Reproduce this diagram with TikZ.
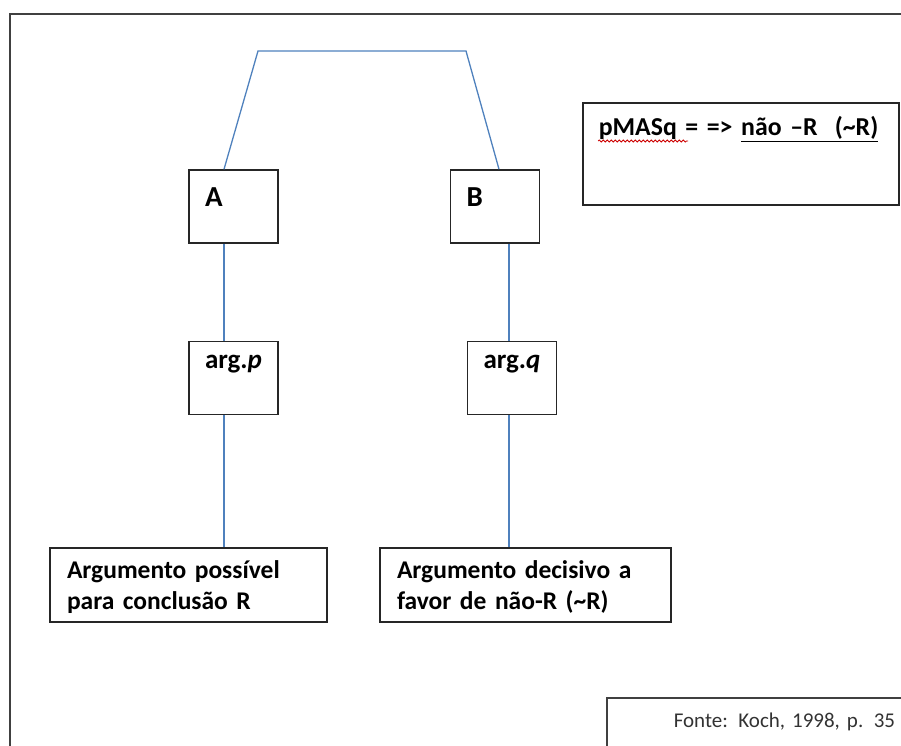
\documentclass[tikz,border=0pt]{standalone}
\usepackage{fontspec}
\setmainfont{Carlito}[WordSpace=0.55]
\usetikzlibrary{positioning, decorations.pathmorphing}
\definecolor{linkblue}{RGB}{79,129,189}
\definecolor{boxgray}{RGB}{38,38,38}

\begin{document}
\begin{tikzpicture}[x=1pt, y=-1pt,
  box/.style={draw=boxgray, line width=1.5pt, inner ysep=0pt, font=\bfseries},
  letter/.style={box, text width=57pt, inner xsep=16pt, align=left, text height=36pt, text depth=37pt, font=\fontsize{29}{32}\selectfont\bfseries},
  argbox/.style={box, text width=85pt, inner xsep=2pt, align=center, text height=27pt, text depth=46pt, font=\fontsize{27}{30}\selectfont\bfseries},
  conclusion/.style={box, inner xsep=17pt, align=left, text height=30pt, text depth=44pt, font=\fontsize{25.5}{31}\selectfont\bfseries},
  link/.style={draw=linkblue, line width=1.3pt},
  frame/.style={draw=black!75, line width=1.5pt}
]
\useasboundingbox (0,0) rectangle (901,745);
\clip (0,0) rectangle (901,745);

% Outer frame
\draw[frame] (10,14) rectangle (940,780);

% Parties
\node[letter] (A) at (233.5,206.5) {A};
\node[letter, right=171pt of A] (B) {B};

% Arguments
\node[argbox, below=97pt of A] (argp) {arg.\textit{p}};
\node[argbox, below=97pt of B, xshift=17pt] (argq) {arg.\textit{q}};

% Conclusions
\node[conclusion, text width=243pt, below=132pt of argp, xshift=-45pt] (conclR) {Argumento possível\\para conclusão R};
\node[conclusion, text width=257pt, below=132pt of argq, xshift=13.5pt] (conclnotR) {Argumento decisivo a\\favor de não-R (\textasciitilde R)};

% Summary
\node[box, anchor=north west, text width=284pt, inner xsep=16pt, align=left, text height=33pt, text depth=69pt, font=\fontsize{25.8}{28}\selectfont\bfseries] (summary) at (582,102) {pMASq = => \underline{não –R\ \ (\textasciitilde R)}};
\draw[red!80!black, line width=0.8pt, decorate, decoration={snake, amplitude=1pt, segment length=4pt}] ([xshift=16pt, yshift=-39pt]summary.north west) -- ++(90,0);

% Source
\node[box, draw=black!75, anchor=north west, text width=240pt, inner xsep=67pt, align=left, text height=30pt, text depth=40pt, text=black!80, font=\fontsize{21}{24}\selectfont] (source) at (606,697) {Fonte: Koch, 1998, p. 35};

% Links
\coordinate (topl) at (258,51);
\coordinate (topr) at (466,51);
\draw[link] ([xshift=-9.5pt]A.north) -- (topl) -- (topr) -- ([xshift=4pt]B.north);
\draw[link] ([xshift=-9.5pt]A.south) -- ([xshift=-9.5pt]A.south |- argp.north);
\draw[link] ([xshift=-9.5pt]argp.south) -- ([xshift=-9.5pt]argp.south |- conclR.north);
\draw[link] ([xshift=14pt]B.south) -- ([xshift=14pt]B.south |- argq.north);
\draw[link] ([xshift=-3pt]argq.south) -- ([xshift=-3pt]argq.south |- conclnotR.north);

\end{tikzpicture}
\end{document}
